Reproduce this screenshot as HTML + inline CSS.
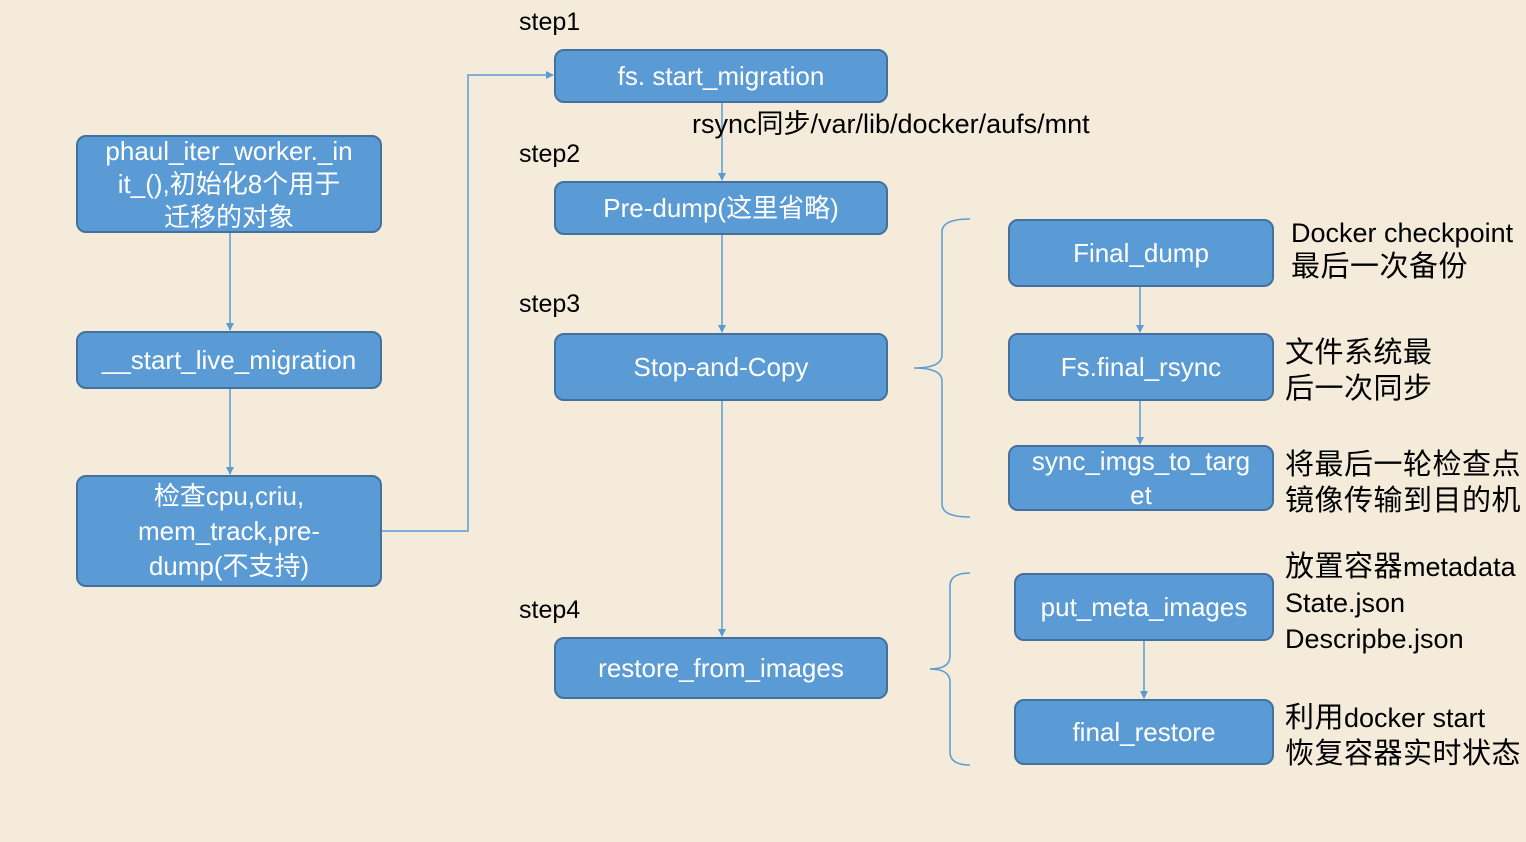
<!DOCTYPE html>
<html><head><meta charset="utf-8"><style>
body{margin:0;width:1526px;height:842px;background:#f4ebdb;position:relative;overflow:hidden;font-family:"Liberation Sans","Noto Sans CJK SC",sans-serif}
.b{position:absolute;box-sizing:border-box;background:#5b9bd5;border:2px solid #41719c;border-radius:10px;color:#fff;display:flex;align-items:center;justify-content:center;text-align:center;font-size:26px;line-height:35px}
.t{position:absolute;color:#000;font-size:27px;line-height:36px;white-space:nowrap}
.c{font-size:29px;letter-spacing:0.5px}
svg{position:absolute;left:0;top:0}
</style></head><body>
<svg width="1526" height="842">
<defs><marker id="a" markerWidth="8" markerHeight="8" refX="7" refY="4" orient="auto" markerUnits="userSpaceOnUse"><path d="M0,0L8,4L0,8z" fill="#5b9bd5"/></marker></defs>
<g stroke="#5b9bd5" stroke-width="1.5" fill="none">
<line x1="230" y1="233" x2="230" y2="330" marker-end="url(#a)"/>
<line x1="230" y1="389" x2="230" y2="474" marker-end="url(#a)"/>
<polyline points="382,531 468,531 468,75 553,75" marker-end="url(#a)"/>
<line x1="722" y1="103" x2="722" y2="180" marker-end="url(#a)"/>
<line x1="722" y1="235" x2="722" y2="332" marker-end="url(#a)"/>
<line x1="722" y1="401" x2="722" y2="636" marker-end="url(#a)"/>
<line x1="1140" y1="287" x2="1140" y2="332" marker-end="url(#a)"/>
<line x1="1140" y1="401" x2="1140" y2="444" marker-end="url(#a)"/>
<line x1="1144" y1="641" x2="1144" y2="698" marker-end="url(#a)"/>
<path d="M970,219 Q942,219 942,232 L942,355 Q942,368 914,368 Q942,368 942,381 L942,504 Q942,517 970,517"/>
<path d="M970,573 Q950,573 950,586 L950,656 Q950,669 930,669 Q950,669 950,682 L950,752 Q950,765 970,765"/>
</g></svg>
<div class="b" style="left:76px;top:135px;width:306px;height:98px;line-height:33px">phaul_iter_worker._in<br>it_(),初始化8个用于<br>迁移的对象</div>
<div class="b" style="left:76px;top:331px;width:306px;height:58px">__start_live_migration</div>
<div class="b" style="left:76px;top:475px;width:306px;height:112px">检查cpu,criu,<br>mem_track,pre-<br>dump(不支持)</div>
<div class="b" style="left:554px;top:49px;width:334px;height:54px">fs. start_migration</div>
<div class="b" style="left:554px;top:181px;width:334px;height:54px">Pre-dump(这里省略)</div>
<div class="b" style="left:554px;top:333px;width:334px;height:68px">Stop-and-Copy</div>
<div class="b" style="left:554px;top:637px;width:334px;height:62px">restore_from_images</div>
<div class="b" style="left:1008px;top:219px;width:266px;height:68px">Final_dump</div>
<div class="b" style="left:1008px;top:333px;width:266px;height:68px">Fs.final_rsync</div>
<div class="b" style="left:1008px;top:445px;width:266px;height:66px;line-height:34px">sync_imgs_to_targ<br>et</div>
<div class="b" style="left:1014px;top:573px;width:260px;height:68px">put_meta_images</div>
<div class="b" style="left:1014px;top:699px;width:260px;height:66px">final_restore</div>
<div class="t" style="left:519px;top:4px;font-size:25px">step1</div>
<div class="t" style="left:519px;top:136px;font-size:25px">step2</div>
<div class="t" style="left:519px;top:286px;font-size:25px">step3</div>
<div class="t" style="left:519px;top:592px;font-size:25px">step4</div>
<div class="t" style="left:692px;top:106px">rsync同步/var/lib/docker/aufs/mnt</div>
<div class="t" style="left:1291px;top:216px;line-height:34px">Docker checkpoint<br><span class="c">最后一次备份</span></div>
<div class="t c" style="left:1285px;top:335px">文件系统最<br>后一次同步</div>
<div class="t c" style="left:1285px;top:447px">将最后一轮检查点<br>镜像传输到目的机</div>
<div class="t" style="left:1285px;top:549px"><span class="c">放置容器</span>metadata<br>State.json<br>Descripbe.json</div>
<div class="t" style="left:1285px;top:700px"><span class="c">利用</span>docker start<br><span class="c">恢复容器实时状态</span></div>
</body></html>
